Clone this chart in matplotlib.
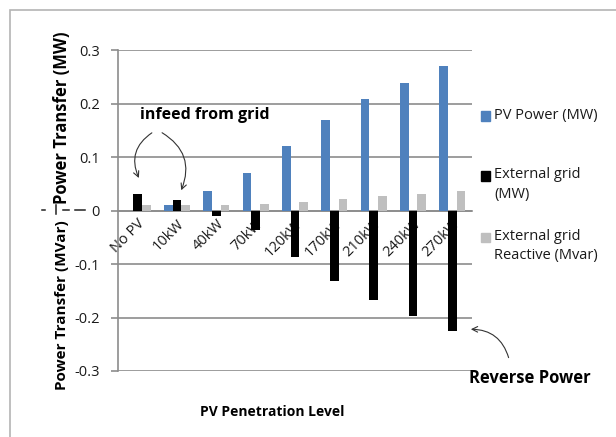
import matplotlib.pyplot as plt
from matplotlib.lines import Line2D
import numpy as np

levels = ['No PV', '10kW', '40kW', '70kW', '120kW', '170kW', '210kW', '240kW', '270kW']
pv_power = [0.0, 0.01, 0.037, 0.071, 0.12, 0.17, 0.209, 0.239, 0.271]
grid_mw = [0.03, 0.02, -0.011, -0.037, -0.086, -0.131, -0.168, -0.198, -0.226]
grid_mvar = [0.01, 0.01, 0.01, 0.012, 0.015, 0.022, 0.028, 0.031, 0.036]
yticks = [-0.3, -0.2, -0.1, 0, 0.1, 0.2, 0.3]
ytick_labels = ['-0.3', '-0.2', '-0.1', '0', '0.1', '0.2', '0.3']
series_names = ['PV Power (MW)', 'External grid\n(MW)', 'External grid\nReactive (Mvar)']
series_colors = ['#4F81BD', '#000000', '#BFBFBF']

plt.rcParams['font.family'] = ['Open Sans', 'DejaVu Sans']

W, H = 616, 437


def fx(px):
    return px / W


def fy(py):
    return 1 - py / H


fig = plt.figure(figsize=(6.16, 4.37), dpi=100)
ax = fig.add_axes([fx(118), fy(371), 354 / W, 321 / H])

# outer chart border
fig.patches.append(plt.Rectangle((fx(10), -0.1), 1.2, fy(10) + 0.1, transform=fig.transFigure,
                                 fill=False, edgecolor='#b4b4b4', lw=1.2))

x = np.arange(len(levels))
w = 0.22
ax.bar(x - w, pv_power, w, color=series_colors[0], zorder=3)
ax.bar(x, grid_mw, w, color=series_colors[1], zorder=3)
ax.bar(x + w, grid_mvar, w, color=series_colors[2], zorder=3)

ax.set_xlim(-0.5, len(levels) - 0.5)
ax.set_ylim(-0.3, 0.3)
ax.set_yticks(yticks)
ax.set_yticklabels(ytick_labels, fontsize=10.5, color='#1a1a1a')
ax.yaxis.grid(True, color='#8c8c8c', lw=1.2, zorder=0)
ax.tick_params(axis='y', length=5, color='#8c8c8c', width=1.2, pad=8)

ax.spines['top'].set_visible(False)
ax.spines['right'].set_visible(False)
ax.spines['left'].set_color('#8c8c8c')
ax.spines['left'].set_linewidth(1.2)
ax.spines['bottom'].set_position(('data', 0))
ax.spines['bottom'].set_color('#8c8c8c')
ax.spines['bottom'].set_linewidth(1.2)

ax.set_xticks(x)
ax.set_xticklabels(levels, rotation=45, ha='right', rotation_mode='anchor', fontsize=10.5, color='#1a1a1a')
ax.tick_params(axis='x', length=0, pad=4)

# y axis titles
fig.text(fx(62), fy(118), 'Power Transfer (MW)', rotation=90,
         ha='center', va='center', fontsize=12, fontweight='bold')
fig.text(fx(62), fy(305), 'Power Transfer (MVar)', rotation=90,
         ha='center', va='center', fontsize=11, fontweight='bold')
# little dash marks left of the zero label
for x0, x1 in [(42, 45), (63, 69), (75, 85)]:
    fig.add_artist(Line2D([fx(x0), fx(x1)], [fy(210), fy(210)], color='#222222', lw=1.1))
fig.add_artist(Line2D([fx(56), fx(56)], [fy(205), fy(214)], color='#222222', lw=1.1))

ax.set_xlabel('PV Penetration Level', fontsize=10, fontweight='bold')
ax.xaxis.set_label_coords(0.435, -0.105)

# legend drawn by hand to follow the reference spacing
legend_rows = [116, 176, 237]
for name, col, py in zip(series_names, series_colors, legend_rows):
    fig.patches.append(plt.Rectangle((fx(481), fy(py + 4.5)), 9 / W, 9 / H, transform=fig.transFigure,
                                     color=col))
    fig.text(fx(494), fy(py - 8.5), name, ha='left', va='top', fontsize=10.5,
             color='#1a1a1a', linespacing=1.4)

ax.text(0.06, 0.178, 'infeed from grid', fontsize=11.5, fontweight='bold', ha='left', va='center')
ax.annotate('', xy=(0.06, 0.056), xytext=(0.42, 0.148),
            arrowprops=dict(arrowstyle='->', color='#333333', lw=0.8, connectionstyle='arc3,rad=0.45'))
ax.annotate('', xy=(1.08, 0.033), xytext=(0.56, 0.148),
            arrowprops=dict(arrowstyle='->', color='#333333', lw=0.8, connectionstyle='arc3,rad=-0.45'))

ax.text(8.42, -0.314, 'Reverse Power', fontsize=12, fontweight='bold', ha='left', va='center', clip_on=False)
ax.annotate('', xy=(8.4, -0.222), xytext=(9.45, -0.28), annotation_clip=False,
            arrowprops=dict(arrowstyle='->', color='#333333', lw=0.8, connectionstyle='arc3,rad=0.4'))

fig.savefig('out.png', dpi=100)
